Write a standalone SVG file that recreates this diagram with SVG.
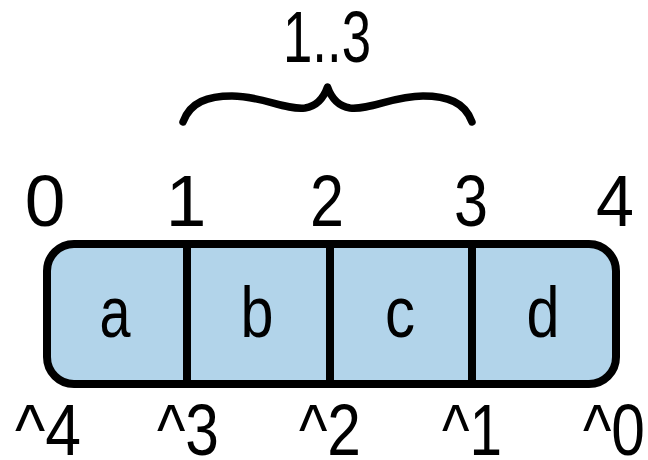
<svg xmlns="http://www.w3.org/2000/svg" width="648" height="460" viewBox="0 0 648 460">
<style>
  .t { font-family: "Liberation Sans", Arial, sans-serif; font-size: 73px; fill: #000; text-anchor: middle; }
  .box { fill: #b2d4ea; stroke: #000; stroke-width: 8; }
  .div { stroke: #000; stroke-width: 8; }
  .brace { fill: none; stroke: #000; stroke-width: 7.5; stroke-linecap: round; stroke-linejoin: round; }
</style>
<rect width="648" height="460" fill="#fff"/>
<g id="array">
  <rect class="box" x="47" y="244" width="569" height="140" rx="27" ry="27"/>
  <line class="div" x1="187" y1="244" x2="187" y2="384"/>
  <line class="div" x1="330" y1="244" x2="330" y2="384"/>
  <line class="div" x1="472" y1="244" x2="472" y2="384"/>
</g>
<g id="cell-a"><text class="t" x="115" y="337" textLength="31" lengthAdjust="spacingAndGlyphs">a</text></g>
<g id="cell-b"><text class="t" x="257" y="337" textLength="33" lengthAdjust="spacingAndGlyphs">b</text></g>
<g id="cell-c"><text class="t" x="400" y="337" textLength="30" lengthAdjust="spacingAndGlyphs">c</text></g>
<g id="cell-d"><text class="t" x="543" y="337" textLength="33" lengthAdjust="spacingAndGlyphs">d</text></g>
<g id="top-indices">
  <text class="t" x="45" y="226">0</text>
  <text class="t" x="186" y="226">1</text>
  <text class="t" x="327" y="226" textLength="34" lengthAdjust="spacingAndGlyphs">2</text>
  <text class="t" x="471" y="226" textLength="34" lengthAdjust="spacingAndGlyphs">3</text>
  <text class="t" x="615" y="226" textLength="38" lengthAdjust="spacingAndGlyphs">4</text>
</g>
<g id="bottom-indices">
  <text class="t" x="48" y="455" textLength="66" lengthAdjust="spacingAndGlyphs">^4</text>
  <text class="t" x="188" y="455" textLength="62" lengthAdjust="spacingAndGlyphs">^3</text>
  <text class="t" x="330" y="455" textLength="62" lengthAdjust="spacingAndGlyphs">^2</text>
  <text class="t" x="472" y="455" textLength="60" lengthAdjust="spacingAndGlyphs">^1</text>
  <text class="t" x="614" y="455" textLength="62" lengthAdjust="spacingAndGlyphs">^0</text>
</g>
<g id="range-label"><text class="t" x="327" y="62" textLength="88" lengthAdjust="spacingAndGlyphs">1..3</text></g>
<g id="connectors">
  <path class="brace" d="M183,122 C190,102 208,96 232,96 C262,96 284,110 305,108 C318,106 324,97 327.5,87 C331,97 337,106 350,108 C371,110 393,96 423,96 C447,96 465,102 472,122"/>
</g>
</svg>
